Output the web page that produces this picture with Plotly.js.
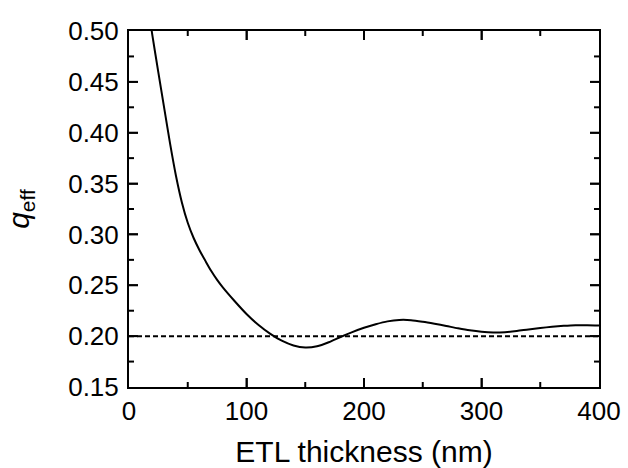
<!DOCTYPE html>
<html>
<head>
<meta charset="utf-8">
<script src="https://cdn.plot.ly/plotly-3.0.1.min.js"></script>
<style>html,body{margin:0;padding:0;background:#fff;}#chart{width:628px;height:468px;}</style>
</head>
<body>
<div id="chart"></div>
<script>
// ETL thickness (nm)
var thickness = [15, 20, 25, 30, 35, 40, 45, 50, 55, 60, 65, 70, 75, 80, 90, 100, 110, 120, 130, 140, 150, 160, 170, 180, 190, 200, 210, 220, 230, 240, 250, 260, 270, 280, 290, 300, 310, 320, 330, 340, 350, 360, 370, 380, 390, 400];
// q_eff
var qEff = [0.532, 0.495, 0.459, 0.424, 0.389, 0.3575, 0.3315, 0.3115, 0.2965, 0.2845, 0.2740, 0.2640, 0.2553, 0.2477, 0.2343, 0.2218, 0.2112, 0.2025, 0.1955, 0.1908, 0.1888, 0.1900, 0.1940, 0.1992, 0.2040, 0.2082, 0.2117, 0.2145, 0.2159, 0.2157, 0.2142, 0.2122, 0.2100, 0.2077, 0.2057, 0.2043, 0.2036, 0.2039, 0.2050, 0.2066, 0.2080, 0.2092, 0.2101, 0.2107, 0.2108, 0.2104];
// reference level
var refX = [0, 400];
var refY = [0.20, 0.20];
// ticks
var xMajorTicks = [0, 100, 200, 300, 400];
var xMinorTicks = [50, 150, 250, 350];
var yMajorTicks = [0.15, 0.20, 0.25, 0.30, 0.35, 0.40, 0.45, 0.50];
var yMinorTicks = [0.175, 0.225, 0.275, 0.325, 0.375, 0.425, 0.475];
var xRange = [0, 400];
var yRange = [0.15, 0.50];

var font = "Liberation Sans, Arial, sans-serif";
var traces = [
  {x: refX, y: refY, mode: "lines", line: {color: "#000", width: 2, dash: "5px,3px"}, hoverinfo: "skip"},
  {x: thickness, y: qEff, mode: "lines", line: {color: "#000", width: 2, shape: "spline", smoothing: 0.8}}
];

// tick marks drawn as shapes anchored at the axis values (lengths in pixels)
var shapes = [];
function xTick(v, len) {
  shapes.push({type: "line", xref: "x", yref: "y", x0: v, x1: v, ysizemode: "pixel", yanchor: yRange[0], y0: 0, y1: len, line: {color: "#000", width: 2}});
  shapes.push({type: "line", xref: "x", yref: "y", x0: v, x1: v, ysizemode: "pixel", yanchor: yRange[1], y0: 0, y1: -len, line: {color: "#000", width: 2}});
}
function yTick(v, len) {
  shapes.push({type: "line", xref: "x", yref: "y", y0: v, y1: v, xsizemode: "pixel", xanchor: xRange[0], x0: 0, x1: len, line: {color: "#000", width: 2}});
  shapes.push({type: "line", xref: "x", yref: "y", y0: v, y1: v, xsizemode: "pixel", xanchor: xRange[1], x0: 0, x1: -len, line: {color: "#000", width: 2}});
}
xMajorTicks.slice(1, -1).forEach(function (v) { xTick(v, 9); });
xMinorTicks.forEach(function (v) { xTick(v, 5); });
yMajorTicks.slice(1, -1).forEach(function (v) { yTick(v, 9); });
yMinorTicks.forEach(function (v) { yTick(v, 5); });

var layout = {
  width: 628, height: 468,
  margin: {l: 129, r: 29, t: 31, b: 81},
  paper_bgcolor: "#fff", plot_bgcolor: "#fff",
  showlegend: false,
  font: {family: font, color: "#000", size: 26},
  shapes: shapes,
  xaxis: {
    range: xRange, tickmode: "array", tickvals: xMajorTicks,
    ticks: "inside", ticklen: 9, tickwidth: 2,
    showline: true, linewidth: 2, linecolor: "#000", mirror: "ticks",
    showgrid: false, zeroline: false,
    tickfont: {size: 26},
    title: {text: "ETL thickness (nm)", font: {size: 30}}
  },
  yaxis: {
    range: yRange, tickmode: "array", tickvals: yMajorTicks, tickformat: ".2f",
    ticks: "inside", ticklen: 9, tickwidth: 2,
    showline: true, linewidth: 2, linecolor: "#000", mirror: "ticks",
    showgrid: false, zeroline: false,
    tickfont: {size: 26},
    ticklabelstandoff: 3,
    title: {text: "<i>q</i><sub>eff</sub>", font: {size: 30}, standoff: 30}
  }
};
Plotly.newPlot("chart", traces, layout, {displayModeBar: false});
</script>
</body>
</html>
